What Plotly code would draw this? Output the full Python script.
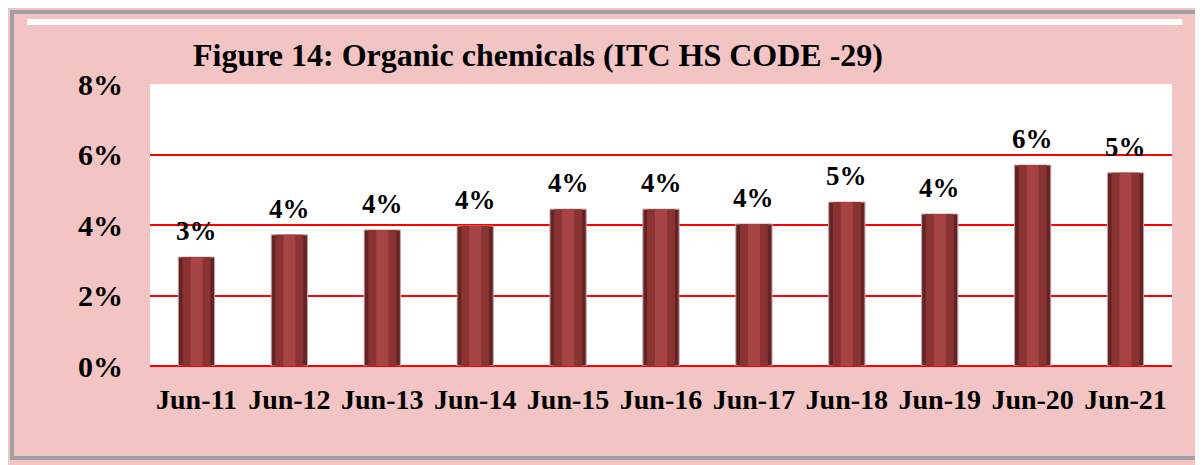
import plotly.graph_objects as go

categories = ["Jun-11", "Jun-12", "Jun-13", "Jun-14", "Jun-15", "Jun-16",
              "Jun-17", "Jun-18", "Jun-19", "Jun-20", "Jun-21"]
values = [3.09, 3.72, 3.86, 3.97, 4.45, 4.45, 4.03, 4.65, 4.31, 5.70, 5.48]
labels = ["3%", "4%", "4%", "4%", "4%", "4%", "4%", "5%", "4%", "6%", "5%"]
y_ticks = [0, 2, 4, 6, 8]
y_tick_text = ["0%", "2%", "4%", "6%", "8%"]

FONT = "Liberation Serif, Times New Roman, serif"

fig = go.Figure()
fig.add_trace(go.Bar(
    x=categories, y=values,
    width=0.39,
    marker=dict(color="#642424", line=dict(color="#c9a3a3", width=1)),
    hoverinfo="skip",
))
fig.add_trace(go.Bar(
    x=categories, y=values,
    width=0.30,
    marker=dict(color="#8a3333", line=dict(width=0)),
    hoverinfo="skip",
))
fig.add_trace(go.Bar(
    x=categories, y=values,
    width=0.13,
    marker=dict(color="#a64343", line=dict(width=0)),
    hoverinfo="skip",
))

for c, v, t in zip(categories, values, labels):
    fig.add_annotation(x=c, y=v, text="<b>%s</b>" % t, showarrow=False,
                       xanchor="center", yanchor="bottom", yshift=9,
                       font=dict(family=FONT, size=27, color="black"))

fig.update_layout(
    width=1203, height=465,
    barmode="overlay",
    showlegend=False,
    paper_bgcolor="#F2C4C4",
    plot_bgcolor="white",
    margin=dict(l=142, r=39, t=76, b=107),
    title=dict(text="<b>Figure 14: Organic chemicals (ITC HS CODE -29)</b>",
               font=dict(family=FONT, size=32, color="black"),
               x=185/1203, xanchor="left", y=1-47/465, yanchor="middle"),
    xaxis=dict(showgrid=False, showline=False, ticks="",
               tickfont=dict(family=FONT, size=28, color="black"),
               ticklabelstandoff=14,
               tickprefix="<b>", ticksuffix="</b>"),
    yaxis=dict(range=[0, 8], tickvals=y_ticks, ticktext=["<b>%s</b>" % t for t in y_tick_text],
               showgrid=True, gridcolor="#ff0000", gridwidth=2,
               zeroline=True, zerolinecolor="#ff0000", zerolinewidth=2,
               showline=False, ticks="",
               tickfont=dict(family=FONT, size=30, color="black"),
               ticklabelstandoff=26),
)

# bevelled frame around the chart
fig.add_shape(type="rect", xref="paper", yref="paper",
              x0=-0.135, x1=1.0254, y0=-0.326, y1=1.255,
              line=dict(color="#a0a0a0", width=4), layer="below")
fig.add_shape(type="line", xref="paper", yref="paper",
              x0=-0.12, x1=1.01, y0=1.22, y1=1.22,
              line=dict(color="white", width=6), layer="below")

fig.write_html("out.html")
